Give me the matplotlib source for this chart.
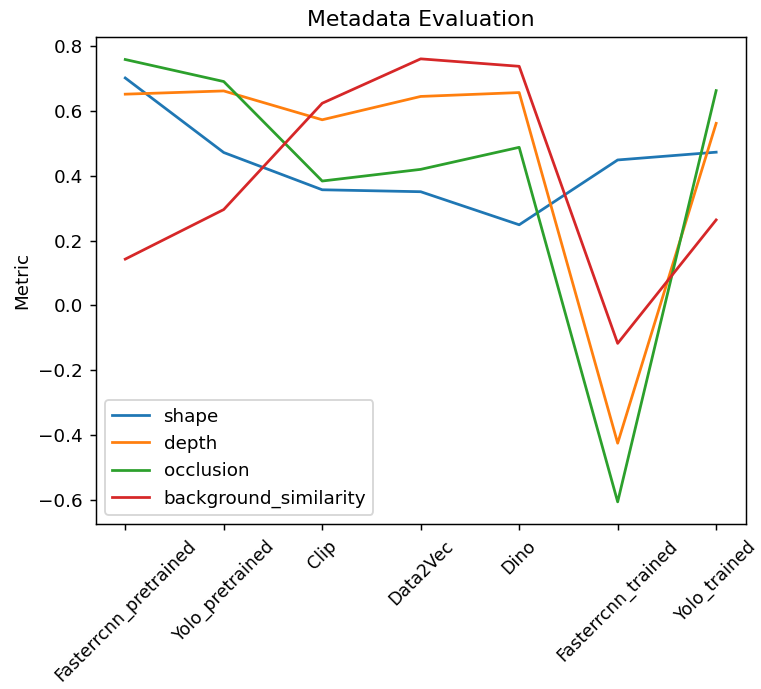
import matplotlib
matplotlib.use('Agg')
import matplotlib.pyplot as plt

models = ['Fasterrcnn_pretrained', 'Yolo_pretrained', 'Clip', 'Data2Vec',
          'Dino', 'Fasterrcnn_trained', 'Yolo_trained']

shape = [0.702, 0.472, 0.357, 0.351, 0.249, 0.449, 0.473]
depth = [0.652, 0.662, 0.573, 0.645, 0.657, -0.425, 0.562]
occlusion = [0.759, 0.691, 0.384, 0.420, 0.488, -0.606, 0.663]
background_similarity = [0.143, 0.296, 0.624, 0.761, 0.738, -0.117, 0.264]

dpi = 132
fig = plt.figure(figsize=(761 / dpi, 689 / dpi), dpi=dpi)
ax = fig.add_axes([95.7 / 761, 1 - 524 / 689, 650 / 761, 487.3 / 689])

ax.plot(models, shape, label='shape')
ax.plot(models, depth, label='depth')
ax.plot(models, occlusion, label='occlusion')
ax.plot(models, background_similarity, label='background_similarity')

ax.set_title('Metadata Evaluation')
ax.set_ylabel('Metric')
ax.tick_params(axis='x', labelrotation=45, labelsize=9.5)
ax.legend(loc='lower left')

fig.savefig('out.png', dpi=dpi)
